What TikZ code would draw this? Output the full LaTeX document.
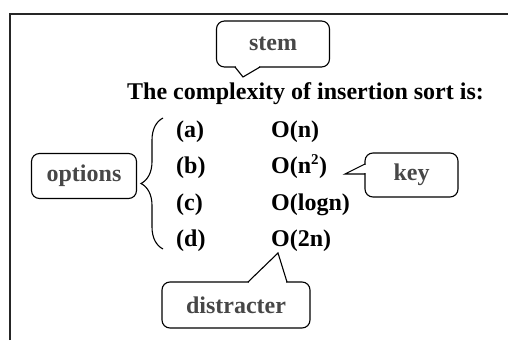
\documentclass[tikz,border=0pt]{standalone}
\usepackage{fontspec}
\setmainfont{Liberation Serif}
\usetikzlibrary{decorations.pathreplacing}
\definecolor{labelgray}{HTML}{474747}
\tikzset{
  callout/.style={draw=black, line width=1.1pt, rounded corners=8pt, inner sep=0pt,
    text=labelgray, font=\fontsize{24}{28}\selectfont\bfseries},
  txt/.style={inner sep=0pt, anchor=base west, font=\fontsize{24}{28}\selectfont\bfseries},
  ptr/.style={line width=1.1pt, line join=miter},
  eraser/.style={fill=white}
}
\begin{document}
\begin{tikzpicture}[x=1pt,y=-1pt]
\useasboundingbox (0,0) rectangle (508,340);
% frame
\draw[line width=2pt, color=black!85] (10,340) -- (10,14) -- (508,14);
% stem
\node[callout, minimum width=113pt, minimum height=46pt] (stem) at (273,44) {stem};
\fill[eraser] (236,65) rectangle (259,69);
\draw[ptr] (235,67) -- (243,77) coordinate (stemtip) -- (260,67);
% question
\node[txt, anchor=base] (q) at (305.5,99.5) {The complexity of insertion sort is:};
% options
\node[txt] (la) at (176,137) {(a)};
\node[txt] (lb) at (176,173.5) {(b)};
\node[txt] (lc) at (176,210) {(c)};
\node[txt] (ld) at (176,246.5) {(d)};
\node[txt] (oa) at (271,137) {O(n)};
\node[txt] (ob) at (271,173.5) {O(n\textsuperscript{\fontsize{15}{15}\selectfont 2})};
\node[txt] (oc) at (271,210) {O(logn)};
\node[txt] (od) at (271,246.5) {O(2n)};
% brace
\coordinate (bb) at (163,249);
\coordinate (bt) at (163,118);
\draw[line width=1.1pt, decorate, decoration={brace, amplitude=22pt}] (bb) -- (bt);
% options box
\node[callout, minimum width=105pt, minimum height=45pt] (opt) at (84,176) {options};
% key
\node[callout, minimum width=93pt, minimum height=44pt] (key) at (411.5,175) {key};
\fill[eraser] (363,165) rectangle (367,173);
\draw[ptr] (365,164) -- (345,174) coordinate (keytip) -- (365,174);
% distracter
\node[callout, minimum width=148pt, minimum height=46pt] (dis) at (236,305) {distracter};
\fill[eraser] (249,280) rectangle (286,284);
\draw[ptr] (248,282) -- (278,253) coordinate (distip) -- (287,282);
\end{tikzpicture}
\end{document}
